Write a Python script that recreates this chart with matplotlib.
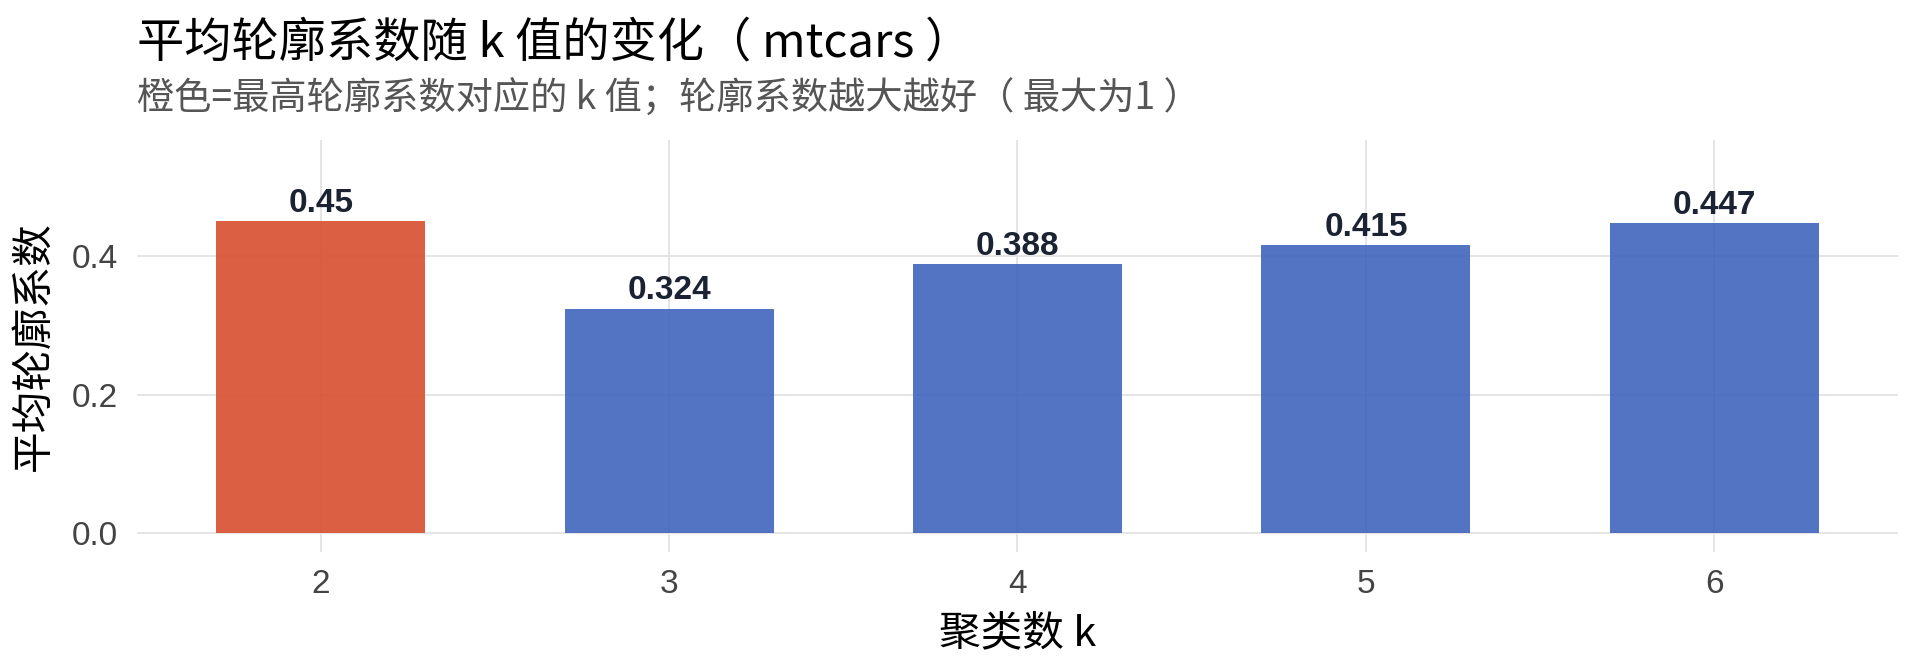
import numpy as np
import matplotlib.pyplot as plt

# 数据：k 值与平均轮廓系数
k_vals = [2, 3, 4, 5, 6]
sil_vals = [0.450, 0.324, 0.388, 0.415, 0.447]
label_txt = ["0.45", "0.324", "0.388", "0.415", "0.447"]
y_ticks = [0.0, 0.2, 0.4]

CJK = ['Noto Sans CJK SC', 'DejaVu Sans']
LAT = ['Liberation Sans', 'DejaVu Sans']

W, H = 1920, 672
fig = plt.figure(figsize=(W / 100, H / 100), dpi=100)
ax = fig.add_axes([137 / W, (H - 552) / H, (1898 - 137) / W, (552 - 140) / H])

best = int(np.argmax(sil_vals))
colors = ['#D84E2D' if i == best else '#4064BD' for i in range(len(k_vals))]
ax.bar(k_vals, sil_vals, width=0.6, color=colors, alpha=0.9, zorder=3)

for x, v, t in zip(k_vals, sil_vals, label_txt):
    ax.text(x, v + 0.003, t, ha='center', va='bottom', fontsize=24,
            fontweight='bold', color='#1B2333', family=LAT, zorder=4)

ax.set_xlim(1.473, 6.527)
ax.set_ylim(-0.027, 0.567)
ax.set_xticks(k_vals)
ax.set_xticklabels([str(k) for k in k_vals], family=LAT, fontsize=24, color='#444444')
ax.set_yticks(y_ticks)
ax.set_yticklabels(["%.1f" % t for t in y_ticks], family=LAT, fontsize=24, color='#444444')
ax.tick_params(length=0, pad=14)
ax.tick_params(axis='x', pad=12)

ax.grid(True, color='#E3E3E3', linewidth=1.3, zorder=0)
ax.set_axisbelow(True)
for s in ax.spines.values():
    s.set_visible(False)

ax.set_xlabel('聚类数 k', family=CJK, fontsize=30, labelpad=10)
ax.set_ylabel('平均轮廓系数', family=CJK, fontsize=30, labelpad=12)

fig.text(137 / W, 1 - 43 / H, '平均轮廓系数随 k 值的变化（ mtcars ）', family=CJK,
         fontsize=34, ha='left', va='center', color='black')
fig.text(137 / W, 1 - 99 / H, '橙色=最高轮廓系数对应的 k 值；轮廓系数越大越好（ 最大为1 ）', family=CJK,
         fontsize=26.8, ha='left', va='center', color='#555555')

fig.savefig('out.png', dpi=100, facecolor='white')
